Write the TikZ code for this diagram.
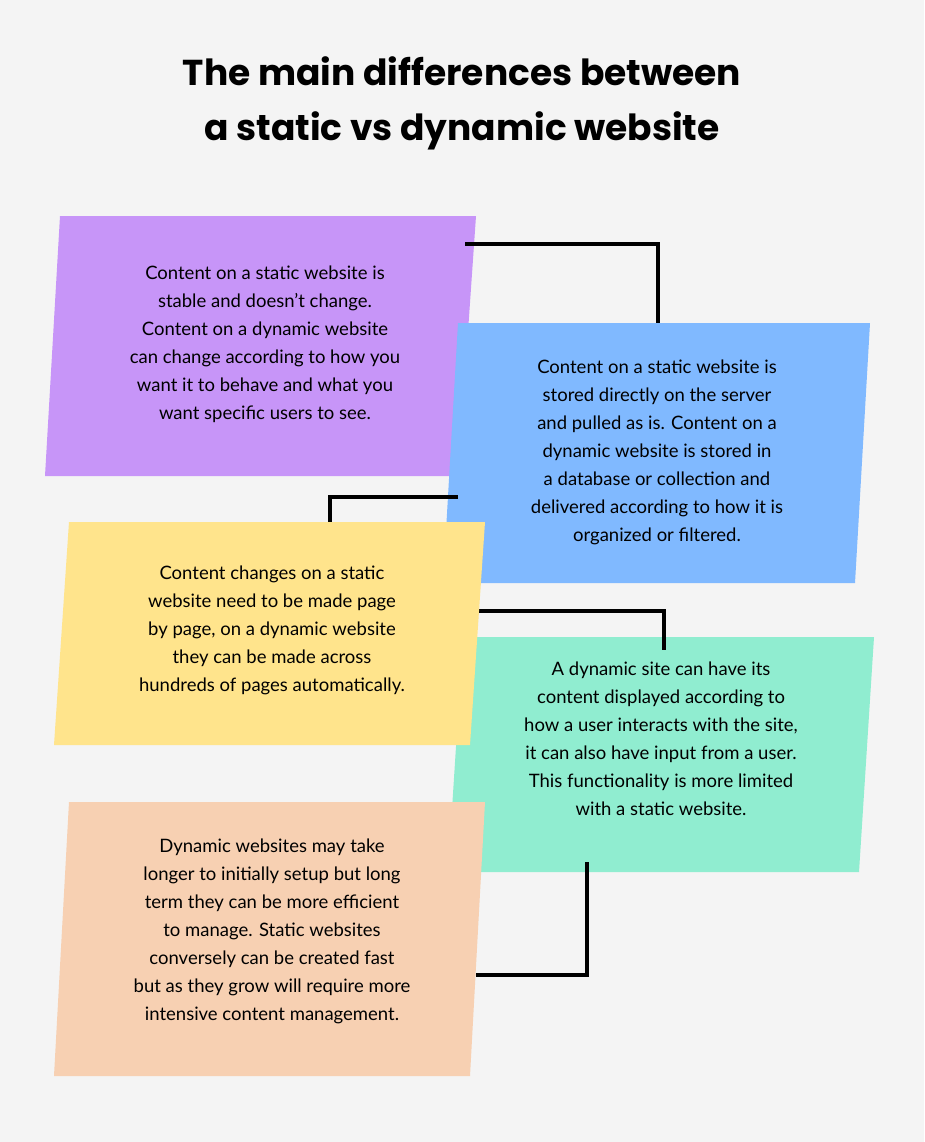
\documentclass[tikz,border=0pt]{standalone}
\usepackage{fontspec}
\setmainfont{Lato}
\newfontfamily\titlefont{Poppins}
\definecolor{bgc}{RGB}{244,244,244}
\definecolor{cpur}{RGB}{199,149,248}
\definecolor{cblu}{RGB}{128,185,255}
\definecolor{cgrn}{RGB}{144,237,208}
\definecolor{cyel}{RGB}{255,228,140}
\definecolor{cpch}{RGB}{247,208,178}
\begin{document}
\begin{tikzpicture}[x=1pt,y=-1pt,
  body/.style={align=center,font=\fontsize{18.5}{28}\selectfont,text=black,inner sep=0pt},
  conn/.style={line width=3.6pt,black}]
\fill[bgc] (0,0) rectangle (924,1142);
\useasboundingbox (0,0) rectangle (924,1142);
\node[font=\titlefont\bfseries\fontsize{36}{55}\selectfont,align=center] (title) at (462,103) {The main differences between\\a static vs dynamic website};
% purple
\fill[cpur] (60,216) -- (476,216) -- (458,476) -- (45,476) -- cycle;
\node[body] (t1) at (265,344) {Content on a static website is\\stable and doesn’t change.\\Content on a dynamic website\\can change according to how you\\want it to behave and what you\\want specific users to see.};
\coordinate (c1a) at (465,244); \coordinate (c1b) at (658,323);
\draw[conn] (c1a) -| (c1b);
% blue
\fill[cblu] (458,323) -- (870,323) -- (855,583) -- (443,583) -- cycle;
\node[body] (t2) at (657,452) {Content on a static website is\\stored directly on the server\\and pulled as is. Content on a\\dynamic website is stored in\\a database or collection and\\delivered according to how it is\\organized or filtered.};
\coordinate (c2a) at (458,497); \coordinate (c2b) at (330,523);
\draw[conn] (c2a) -| (c2b);
% green
\fill[cgrn] (463,637) -- (874,637) -- (859,872) -- (448,872) -- cycle;
\node[body] (t4) at (661,739) {A dynamic site can have its\\content displayed according to\\how a user interacts with the site,\\it can also have input from a user.\\This functionality is more limited\\with a static website.};
\coordinate (c3a) at (478,611); \coordinate (c3b) at (664,650);
\draw[conn] (c3a) -| (c3b);
\coordinate (c4a) at (587,862); \coordinate (c4b) at (476,975);
\draw[conn] (c4a) |- (c4b);
% yellow
\fill[cyel] (69,522) -- (485,522) -- (470,745) -- (54,745) -- cycle;
\node[body] (t3) at (272,630) {Content changes on a static\\website need to be made page\\by page, on a dynamic website\\they can be made across\\hundreds of pages automatically.};
% peach
\fill[cpch] (69,802) -- (485,802) -- (470,1076) -- (54,1076) -- cycle;
\node[body] (t5) at (272,931) {Dynamic websites may take\\longer to initially setup but long\\term they can be more efficient\\to manage. Static websites\\conversely can be created fast\\but as they grow will require more\\intensive content management.};
\end{tikzpicture}
\end{document}
